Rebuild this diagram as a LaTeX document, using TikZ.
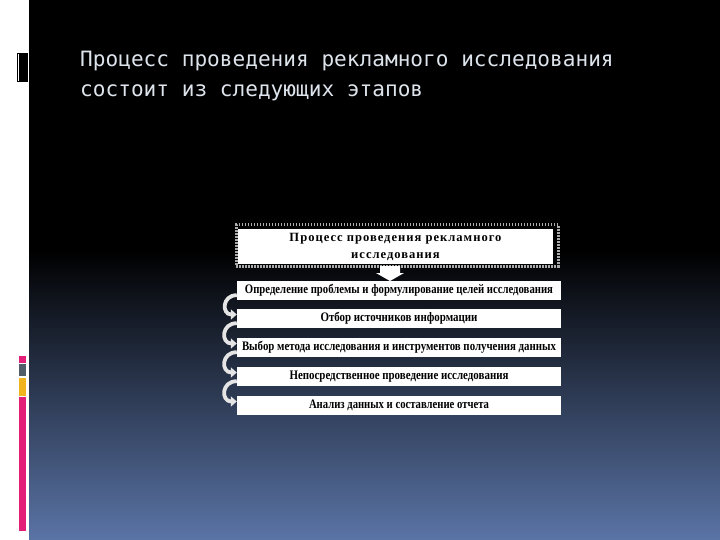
\documentclass[tikz,border=0pt]{standalone}
\usepackage{fontspec}
\setmainfont{Liberation Serif}
\newfontfamily\monof{DejaVu Sans Mono}
\newfontfamily\spacedf[LetterSpace=8]{Liberation Serif}
\usetikzlibrary{arrows.meta}
\definecolor{titlec}{RGB}{222,228,236}
\definecolor{bluebot}{RGB}{90,116,166}
\definecolor{pinkc}{RGB}{226,30,120}
\definecolor{grayc}{RGB}{80,92,104}
\definecolor{orangec}{RGB}{240,180,30}
\tikzset{
  stepbox/.style={fill=white, minimum width=324pt, minimum height=19pt, inner sep=0pt, font=\fontsize{13}{15}\selectfont\bfseries},
  curlarrow/.style={draw=white!80!gray, line width=3.8pt, -{Triangle[length=6pt,width=10pt]}, looseness=2},
  titletext/.style={text=titlec, anchor=base west, inner sep=0pt, font=\monof\fontsize{21.1}{24}\selectfont}
}
\begin{document}
\begin{tikzpicture}[x=1pt,y=-1pt]
\useasboundingbox (0,0) rectangle (720,540);
% page background
\fill[white] (0,0) rectangle (720,540);
\fill[black] (29,0) rectangle (720,540);
\shade[top color=black, middle color=bluebot!18!black, bottom color=bluebot] (29,250) rectangle (720,540);
% left decorations
\fill[black] (17,53) rectangle (28,82);
\fill[white] (18.2,54) rectangle (19.2,81);
\fill[pinkc] (19,356) rectangle (26,363);
\fill[grayc] (19,364) rectangle (26,376);
\fill[orangec] (19,377.5) rectangle (26,396);
\fill[pinkc] (19,397) rectangle (26,531);
% title
\node[titletext] (t1) at (80,67) {Процесс проведения рекламного исследования};
\node[titletext] (t2) at (80,97) {состоит из следующих этапов};
% heading box
\node[draw=gray!65, line width=3pt, dash pattern=on 1.5pt off 1.5pt, minimum width=322pt, minimum height=41pt, inner sep=0pt] (frame) at (397,245.5) {};
\node[fill=white, minimum width=315pt, minimum height=35pt, inner sep=0pt] (head) at (395.5,246.5) {\resizebox{212pt}{!}{\spacedf\fontsize{12}{16}\selectfont\bfseries\begin{tabular}{@{}c@{}}Процесс проведения рекламного\\исследования\end{tabular}}};
% block arrow
\fill[white] (380,266) -- (400,266) -- (400,273) -- (404,273) -- (390,281) -- (376,273) -- (380,273) -- cycle;
% steps
\node[stepbox] (s1) at (399,290.5) {\resizebox{308pt}{\height}{Определение проблемы и формулирование целей исследования}};
\node[stepbox] (s2) at (399,318.5) {\resizebox{157pt}{\height}{Отбор источников информации}};
\node[stepbox] (s3) at (399,347.5) {\resizebox{314pt}{\height}{Выбор метода исследования и инструментов получения данных}};
\node[stepbox] (s4) at (399,376.5) {\resizebox{219pt}{\height}{Непосредственное проведение исследования}};
\node[stepbox] (s5) at (399,405.5) {\resizebox{180pt}{\height}{Анализ данных и составление отчета}};
% curved arrows
\draw[curlarrow] ([yshift=5pt]s1.south west) to[out=180,in=180] ([yshift=4pt]s2.west);
\draw[curlarrow] ([yshift=5pt]s2.south west) to[out=180,in=180] ([yshift=4pt]s3.west);
\draw[curlarrow] ([yshift=5pt]s3.south west) to[out=180,in=180] ([yshift=4pt]s4.west);
\draw[curlarrow] ([yshift=5pt]s4.south west) to[out=180,in=180] ([yshift=4pt]s5.west);
\end{tikzpicture}
\end{document}
